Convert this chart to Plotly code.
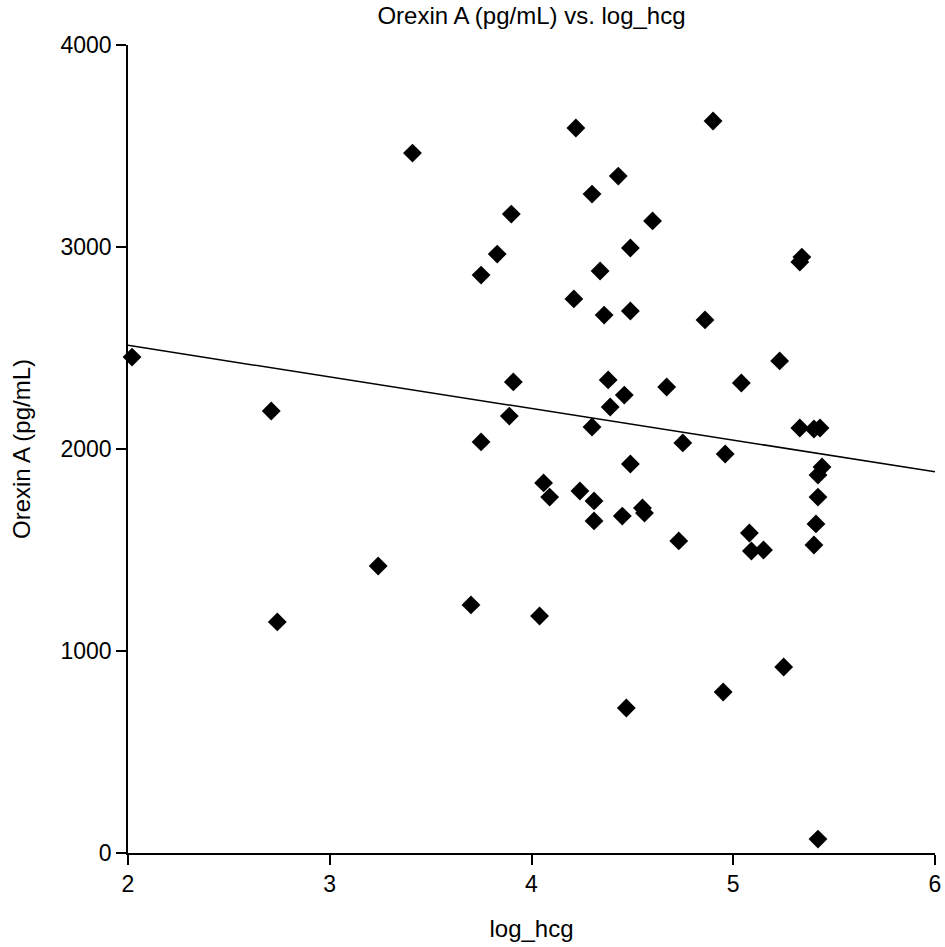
import numpy as np
import plotly.graph_objects as go

log_hcg = [2.02, 2.71, 2.74, 3.24, 3.41, 3.70, 3.75, 3.75, 3.83, 3.90,
           3.91, 3.89, 4.04, 4.06, 4.09, 4.21, 4.22, 4.24, 4.30, 4.31,
           4.31, 4.30, 4.34, 4.36, 4.38, 4.39, 4.43, 4.45, 4.46, 4.47,
           4.49, 4.49, 4.49, 4.55, 4.56, 4.60, 4.67, 4.73, 4.75, 4.86,
           4.90, 4.95, 4.96, 5.04, 5.08, 5.09, 5.15, 5.23, 5.25, 5.34,
           5.33, 5.33, 5.40, 5.43, 5.44, 5.42, 5.42, 5.41, 5.40, 5.42]
orexin = [2455, 2188, 1144, 1421, 3465, 1228, 2861, 2035, 2965, 3163,
          2332, 2163, 1173, 1832, 1762, 2743, 3589, 1792, 3262, 1743,
          1644, 2109, 2881, 2663, 2342, 2208, 3351, 1668, 2267, 718,
          2995, 2683, 1926, 1708, 1683, 3129, 2307, 1545, 2030, 2639,
          3624, 797, 1975, 2327, 1584, 1495, 1500, 2436, 921, 2950,
          2926, 2104, 2099, 2104, 1911, 1871, 1762, 1629, 1525, 69]

x_ticks = [2, 3, 4, 5, 6]
y_ticks = [0, 1000, 2000, 3000, 4000]

slope, intercept = np.polyfit(log_hcg, orexin, 1)
fit_x = [2, 6]
fit_y = [intercept + slope * v for v in fit_x]

font = "Liberation Sans, Arial, sans-serif"

W, H = 945, 947

fig = go.Figure()
fig.add_trace(go.Scatter(x=fit_x, y=fit_y, mode="lines",
                         line=dict(color="black", width=1.5),
                         hoverinfo="skip", cliponaxis=False))
fig.add_trace(go.Scatter(x=log_hcg, y=orexin, mode="markers",
                         marker=dict(symbol="diamond", size=14.5, color="black",
                                     line=dict(width=0)),
                         cliponaxis=False))

axis_common = dict(showgrid=False, zeroline=False, showline=True,
                   linecolor="black", linewidth=1.5, ticks="outside",
                   ticklen=10, tickwidth=1.5, tickcolor="black",
                   automargin=False,
                   tickfont=dict(family=font, size=23, color="black"),
                   title_font=dict(family=font, size=24, color="black"))

fig.update_layout(
    width=W, height=H,
    margin=dict(l=128, r=10, t=45, b=94),
    plot_bgcolor="white", paper_bgcolor="white",
    showlegend=False,
    title=dict(text="Orexin A (pg/mL) vs. log_hcg", x=531.5 / W, xanchor="center",
               y=1 - 16 / H, yanchor="middle",
               font=dict(family=font, size=24, color="black")),
    xaxis=dict(range=[2, 6], tickvals=x_ticks, ticktext=[str(v) for v in x_ticks],
               title=dict(text="log_hcg", standoff=24), **axis_common),
    yaxis=dict(range=[0, 4000], tickvals=y_ticks, ticktext=[str(v) for v in y_ticks],
               title=dict(text="Orexin A (pg/mL)", standoff=23),
               ticklabelstandoff=0, **axis_common),
)

fig.write_html("out.html", config={"displayModeBar": False},
               post_script="document.body.style.margin='0';")
